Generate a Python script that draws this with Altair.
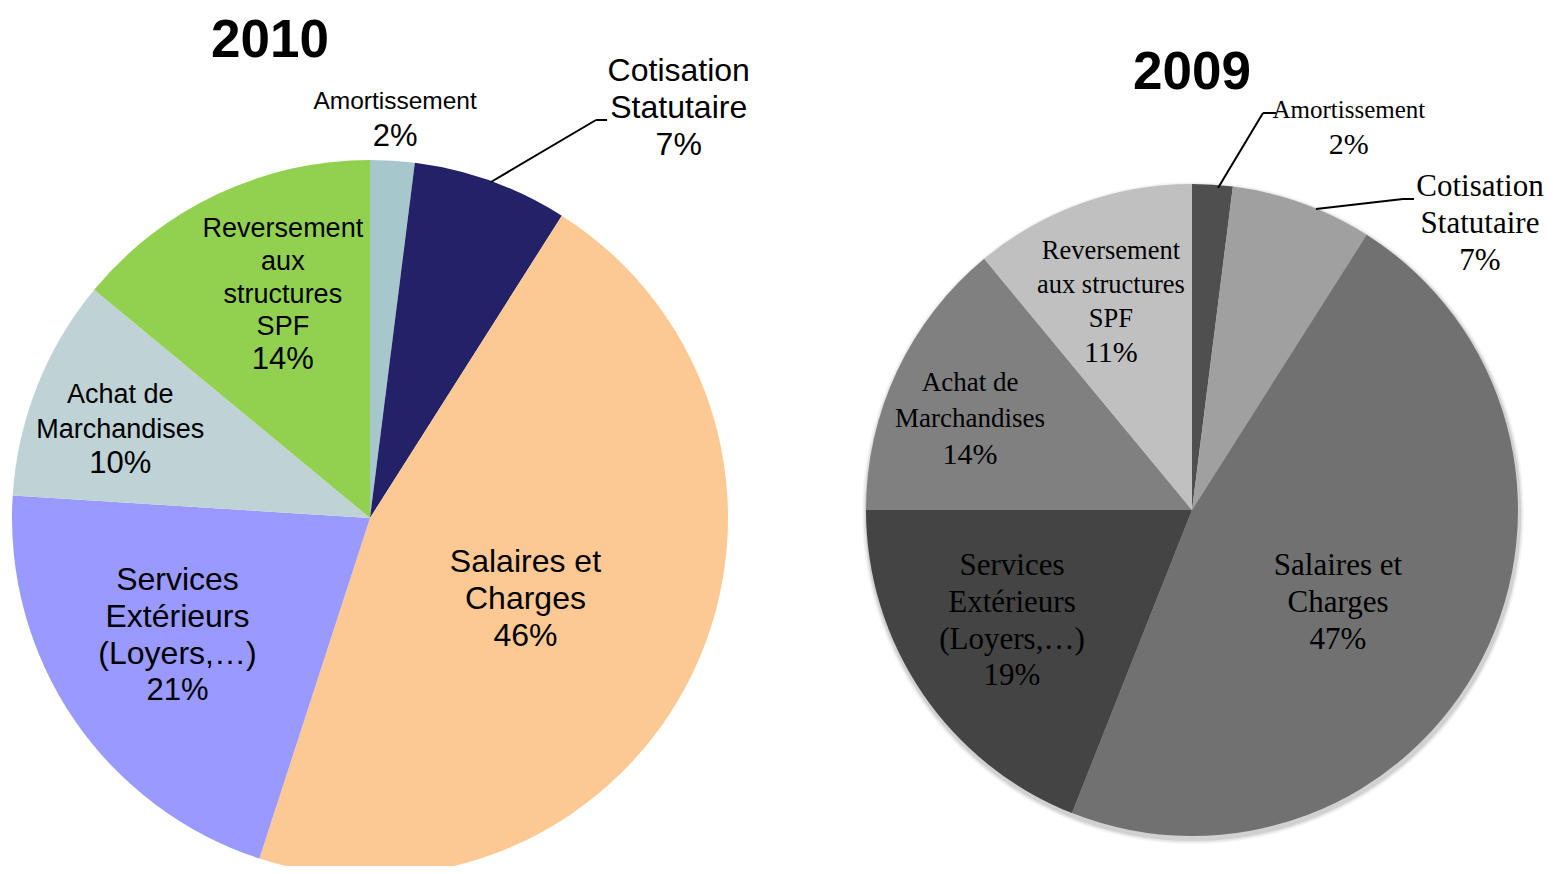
import math
import altair as alt
import pandas as pd

# ---------------- data ----------------
categories = [
    "Amortissement",
    "Cotisation Statutaire",
    "Salaires et Charges",
    "Services Extérieurs (Loyers,…)",
    "Achat de Marchandises",
    "Reversement aux structures SPF",
]
values_2010 = [2, 7, 46, 21, 10, 14]
values_2009 = [2, 7, 47, 19, 14, 11]

label_lines_2010 = [
    ["Amortissement"],
    ["Cotisation", "Statutaire"],
    ["Salaires et", "Charges"],
    ["Services", "Extérieurs", "(Loyers,…)"],
    ["Achat de", "Marchandises"],
    ["Reversement", "aux", "structures", "SPF"],
]
label_lines_2009 = [
    ["Amortissement"],
    ["Cotisation", "Statutaire"],
    ["Salaires et", "Charges"],
    ["Services", "Extérieurs", "(Loyers,…)"],
    ["Achat de", "Marchandises"],
    ["Reversement", "aux structures", "SPF"],
]
years = ["2010", "2009"]

# ---------------- styles / layout ----------------
colors_2010 = ["#a6c8cc", "#232168", "#fcc994", "#9999ff", "#bfd2d5", "#92d050"]
colors_2009 = ["#4f4f4f", "#a0a0a0", "#717171", "#444444", "#808080", "#c0c0c0"]

W, H = 1538, 858
M = 8  # page margin
pies = {
    "2010": dict(cx=370 - M, cy=518 - M, r=358, font="Liberation Sans", shadow=False),
    "2009": dict(cx=1192 - M, cy=510 - M, r=326, font="Liberation Serif", shadow=True),
}
# label placement: (radius fraction, angle offset from slice middle in deg,
#                   name size, pct size, line gap)
label_style_2010 = [
    (1.115, 0.0, 24.5, 31, 35),
    (1.433, 17.2, 32, 32, 37),
    (0.49, 2.4, 32, 32, 37),
    (0.63, 2.8, 32, 31, 37),
    (0.74, -2.1, 27, 31, 34.5),
    (0.67, 3.9, 27, 31, 32.75),
]
label_style_2009 = [
    (1.268, 18.7, 25, 30, 35),
    (1.245, 25.4, 31, 31, 37),
    (0.531, 5.5, 31, 31, 37),
    (0.649, 2.5, 31, 31, 36.7),
    (0.736, -2.9, 27, 30, 36),
    (0.685, -1.5, 26.5, 30, 34),
]
title_pos = {"2010": (270 - M, 41 - M), "2009": (1192 - M, 73 - M)}
# leader lines (page coordinates)
leaders = {
    "2010": [[(491, 182), (596, 120), (607, 120)]],
    "2009": [[(1218, 188), (1263, 113), (1276, 113)],
             [(1316, 209), (1403, 199), (1414, 199)]],
}
shadow_rings = [(5, 0.04), (3.5, 0.06), (2, 0.09)]


def build(year, values, colors, lines, styles):
    p = pies[year]
    cx, cy, R = p["cx"], p["cy"], p["r"]
    total = sum(values)
    out = []
    if p["shadow"]:
        for extra, op in shadow_rings:
            out.append(
                alt.Chart(pd.DataFrame({"k": [0]})).mark_arc(
                    theta=0, theta2=2 * math.pi, outerRadius=R + extra,
                    color="#000000", opacity=op).encode(
                    x=alt.value(cx + 1), y=alt.value(cy + 3))
            )
    df = pd.DataFrame({"category": categories, "value": values,
                       "color": colors, "idx": list(range(len(values)))})
    arc = alt.Chart(df).mark_arc(outerRadius=R, stroke=None).encode(
        theta=alt.Theta("value:Q", stack=True),
        color=alt.Color("color:N", scale=None),
        order=alt.Order("idx:Q"),
        x=alt.value(cx),
        y=alt.value(cy),
    )
    rows = []
    cum = 0
    for v, ln, st in zip(values, lines, styles):
        frac, doff, ns, ps, gap = st
        mid = (cum + v / 2) / total * 360 + doff
        cum += v
        ax = cx + frac * R * math.sin(math.radians(mid))
        ay = cy - frac * R * math.cos(math.radians(mid))
        texts = ln + [f"{v}%"]
        sizes = [ns] * len(ln) + [ps]
        n = len(texts)
        for i, (t, s) in enumerate(zip(texts, sizes)):
            rows.append({"x": ax, "y": ay + (i - (n - 1) / 2) * gap,
                         "text": t, "size": s})
    tdf = pd.DataFrame(rows)
    txt = alt.Chart(tdf).mark_text(font=p["font"], baseline="middle",
                                   align="center", color="black").encode(
        x=alt.X("x:Q", scale=None),
        y=alt.Y("y:Q", scale=None),
        text="text:N",
        size=alt.Size("size:Q", scale=None),
    )
    tx, ty = title_pos[year]
    title = alt.Chart(pd.DataFrame({"t": [year], "x": [tx], "y": [ty]})).mark_text(
        font="Liberation Sans", fontWeight="bold", fontSize=53,
        baseline="middle", align="center", color="black").encode(
        x=alt.X("x:Q", scale=None), y=alt.Y("y:Q", scale=None), text="t:N")
    segs = []
    for poly in leaders[year]:
        for (x1, y1), (x2, y2) in zip(poly[:-1], poly[1:]):
            segs.append({"x": x1 - M, "y": y1 - M, "x2": x2 - M, "y2": y2 - M})
    rule = alt.Chart(pd.DataFrame(segs)).mark_rule(color="black", strokeWidth=2).encode(
        x=alt.X("x:Q", scale=None), y=alt.Y("y:Q", scale=None),
        x2="x2:Q", y2="y2:Q")
    return out + [arc, rule, txt, title]


layers = build("2010", values_2010, colors_2010, label_lines_2010, label_style_2010) + \
         build("2009", values_2009, colors_2009, label_lines_2009, label_style_2009)

chart = alt.layer(*layers).properties(
    width=W, height=H, padding=0,
    autosize=alt.AutoSizeParams(type="none"),
).configure_view(stroke=None)

chart.save("out.html", embed_options={"renderer": "svg", "actions": False})
